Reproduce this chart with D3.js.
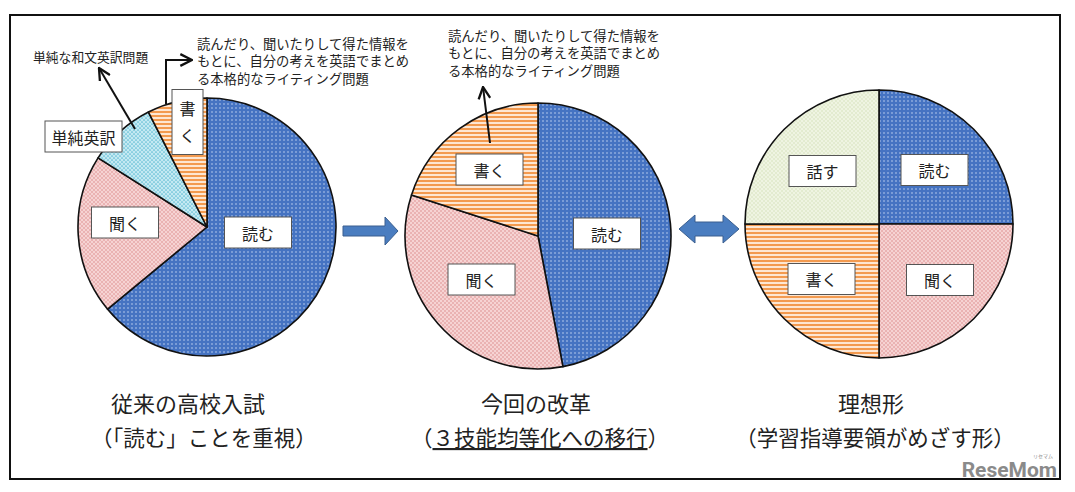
<!DOCTYPE html>
<html>
<head>
<meta charset="utf-8">
<script src="https://cdn.jsdelivr.net/npm/d3@7"></script>
<style>
  html, body { margin: 0; padding: 0; background: #fff; }
  svg { display: block; }
  text { font-family: "Noto Sans CJK JP", "Noto Sans", sans-serif; fill: #222; }
</style>
</head>
<body>
<svg id="chart" width="1075" height="492"></svg>
<script>
// ---------- data ----------
const pie1Labels = ["読む", "聞く", "単純英訳", "書く"];
const pie1Values = [64, 20, 8.5, 7.5];
const pie2Labels = ["読む", "聞く", "書く"];
const pie2Values = [47, 33, 20];
const pie3Labels = ["読む", "聞く", "書く", "話す"];
const pie3Values = [25, 25, 25, 25];

const captionTitles = ["従来の高校入試", "今回の改革", "理想形"];
const captionSubs = ["（「読む」ことを重視）", "（３技能均等化への移行）", "（学習指導要領がめざす形）"];
const writingNote = ["読んだり、聞いたりして得た情報を", "もとに、自分の考えを英語でまとめ", "る本格的なライティング問題"];
const translationNote = "単純な和文英訳問題";

// ---------- styles / layout ----------
const fills = {
  "読む": "url(#pBlue)", "聞く": "url(#pPink)", "単純英訳": "url(#pCyan)",
  "書く": "url(#pOrange)", "話す": "url(#pGreen)"
};
const pies = [
  { labels: pie1Labels, values: pie1Values, cx: 207, cy: 227, r: 129,
    boxes: { "読む": [258, 232.5], "聞く": [125, 222.5], "単純英訳": [83.5, 136.5], "書く": [187.5, 122] } },
  { labels: pie2Labels, values: pie2Values, cx: 538, cy: 236, r: 133,
    boxes: { "読む": [607, 233.5], "聞く": [481.5, 279.5], "書く": [489.5, 169.5] } },
  { labels: pie3Labels, values: pie3Values, cx: 879, cy: 224, r: 134,
    boxes: { "読む": [934.5, 170], "聞く": [940, 280], "書く": [821.5, 279], "話す": [822.5, 171] } }
];

const svg = d3.select("#chart");
const defs = svg.append("defs");

function dotPattern(id, base, dot, size, r, checker) {
  const p = defs.append("pattern").attr("id", id).attr("patternUnits", "userSpaceOnUse")
    .attr("width", size).attr("height", size);
  p.append("rect").attr("width", size).attr("height", size).attr("fill", base);
  p.append("circle").attr("cx", size / 4).attr("cy", size / 4).attr("r", r).attr("fill", dot);
  if (checker) p.append("circle").attr("cx", size * 3 / 4).attr("cy", size * 3 / 4).attr("r", r).attr("fill", dot);
}
dotPattern("pBlue", "#4573C2", "#bed1f0", 4, 0.8, false);
dotPattern("pPink", "#F6D3D3", "#DB8A8A", 4, 0.8, true);
dotPattern("pCyan", "#C4E9F2", "#5DBBD3", 4, 0.85, true);
dotPattern("pGreen", "#EFF4E2", "#CFDCB0", 4, 0.7, true);
const po = defs.append("pattern").attr("id", "pOrange").attr("patternUnits", "userSpaceOnUse")
  .attr("width", 4).attr("height", 4);
po.append("rect").attr("width", 4).attr("height", 4).attr("fill", "#FDE6D2");
po.append("rect").attr("y", 0).attr("width", 4).attr("height", 2).attr("fill", "#F39A4F");

defs.append("marker").attr("id", "chev").attr("viewBox", "0 0 12 12")
  .attr("refX", 11).attr("refY", 6).attr("markerWidth", 14).attr("markerHeight", 14)
  .attr("markerUnits", "userSpaceOnUse").attr("orient", "auto")
  .append("path").attr("d", "M1,1 L11,6 L1,11").attr("fill", "none")
  .attr("stroke", "#111").attr("stroke-width", 2);

// frame
svg.append("rect").attr("x", 10).attr("y", 15).attr("width", 1050).attr("height", 464)
  .attr("fill", "none").attr("stroke", "#111").attr("stroke-width", 2);

// ---------- pies ----------
const pieGen = d3.pie().sort(null).value(d => d);
pies.forEach(P => {
  const arcs = pieGen(P.values);
  const arcGen = d3.arc().innerRadius(0).outerRadius(P.r);
  const g = svg.append("g").attr("transform", `translate(${P.cx},${P.cy})`);
  g.selectAll("path").data(arcs).join("path")
    .attr("d", arcGen)
    .attr("fill", (d, i) => fills[P.labels[i]])
    .attr("stroke", "#111").attr("stroke-width", 1.6).attr("stroke-linejoin", "round");
});

// annotation arrows (drawn before label boxes)
const ann = svg.append("g").attr("fill", "none").attr("stroke", "#111").attr("stroke-width", 2);
ann.append("path").attr("d", "M166,104 L166,60 L192,60").attr("marker-end", "url(#chev)");
ann.append("path").attr("d", "M135,129 L99,68").attr("marker-end", "url(#chev)");
ann.append("path").attr("d", "M490,143 L483,87").attr("marker-end", "url(#chev)");

// label boxes
pies.forEach((P, pi) => {
  P.labels.forEach(lab => {
    const [x, y] = P.boxes[lab];
    const vertical = (pi === 0 && lab === "書く");
    const w = vertical ? 31 : (lab.length > 2 ? 77 : 67);
    const h = vertical ? 65 : 31;
    svg.append("rect").attr("x", x - w / 2).attr("y", y - h / 2).attr("width", w).attr("height", h)
      .attr("fill", "#fff").attr("stroke", "#555").attr("stroke-width", 1);
    if (vertical) {
      lab.split("").forEach((ch, k) => {
        svg.append("text").attr("x", x).attr("y", y - 14 + k * 27)
          .attr("text-anchor", "middle").attr("dominant-baseline", "central")
          .attr("font-size", 16).text(ch);
      });
    } else {
      svg.append("text").attr("x", x).attr("y", y).attr("text-anchor", "middle")
        .attr("dominant-baseline", "central").attr("font-size", 16).text(lab);
    }
  });
});

// notes
svg.append("text").attr("x", 33).attr("y", 56).attr("dominant-baseline", "central")
  .attr("font-size", 12.8).text(translationNote);
[[197, 43], [448, 35]].forEach(([x, y]) => {
  const t = svg.append("text").attr("font-size", 13.3);
  writingNote.forEach((line, k) => {
    t.append("tspan").attr("x", x).attr("y", y + k * 17.5).attr("dominant-baseline", "central").text(line);
  });
});

// block arrows
const ba = svg.append("g").attr("fill", "#4A7DC0").attr("stroke", "#3A5F8F").attr("stroke-width", 1);
ba.append("path").attr("d", "M343,226 L385,226 L385,217 L398,231 L385,245 L385,236 L343,236 Z");
ba.append("path").attr("d", "M679,229 L695,215 L695,222 L723,222 L723,215 L739,229 L723,243 L723,236 L695,236 L695,243 Z");

// captions
const capX = [[188, 204], [536, 540], [871, 875]];
captionTitles.forEach((t, i) => {
  svg.append("text").attr("x", capX[i][0]).attr("y", 402).attr("text-anchor", "middle")
    .attr("dominant-baseline", "central").attr("font-size", 22).text(t);
});
captionSubs.forEach((t, i) => {
  const el = svg.append("text").attr("x", capX[i][1]).attr("y", 436).attr("text-anchor", "middle")
    .attr("dominant-baseline", "central").attr("font-size", 21.5);
  if (i === 1) {
    el.append("tspan").text(t.slice(0, 1));
    el.append("tspan").attr("text-decoration", "underline").text(t.slice(1, -1));
    el.append("tspan").text(t.slice(-1));
  } else {
    el.text(t);
  }
});

// watermark
svg.append("text").attr("x", 1057).attr("y", 477).attr("text-anchor", "end")
  .style("font-family", "'Liberation Sans Narrow', 'Roboto', sans-serif")
  .attr("font-weight", "bold").attr("font-size", 21).style("fill", "#8a8a8a").text("ReseMom");
svg.append("text").attr("x", 1053).attr("y", 458).attr("text-anchor", "end")
  .attr("font-size", 5).style("fill", "#8a8a8a").text("リセマム");
</script>
</body>
</html>
